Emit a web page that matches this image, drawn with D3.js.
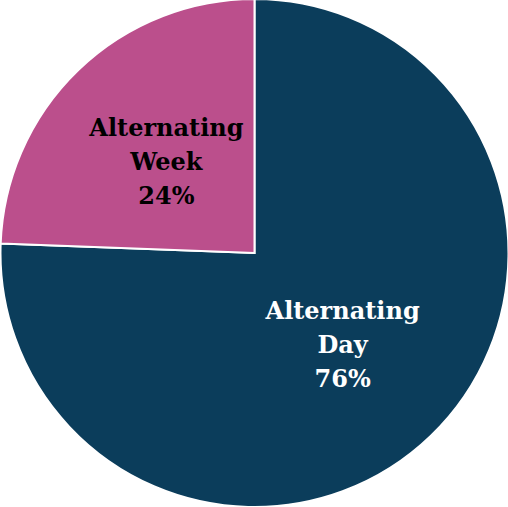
<!DOCTYPE html>
<html>
<head>
<meta charset="utf-8">
<script src="https://cdn.jsdelivr.net/npm/d3@7"></script>
<style>
html,body{margin:0;padding:0;background:#fff;}
</style>
</head>
<body>
<svg id="chart" width="508" height="507"></svg>
<script>
const categories = ["Alternating Day", "Alternating Week"];
const values = [75.6, 24.4];
const labelLines = [["Alternating", "Day", "76%"], ["Alternating", "Week", "24%"]];
const colors = ["#0b3d5b", "#bb4f8c"];
const textColors = ["#ffffff", "#000000"];

const svg = d3.select("#chart");
const cx = 254.5, cy = 253, r = 254;
const g = svg.append("g").attr("transform", `translate(${cx},${cy})`);

const data = categories.map((c, i) => ({cat: c, value: values[i], lines: labelLines[i], i}));
const pie = d3.pie().value(d => d.value).sort(null);
const arcs = pie(data);
const arc = d3.arc().innerRadius(0).outerRadius(r);
const labelArc = d3.arc().innerRadius(r * 0.5).outerRadius(r * 0.5);

g.selectAll("path").data(arcs).join("path")
  .attr("d", arc)
  .attr("fill", d => colors[d.data.i])
  .attr("stroke", "#ffffff")
  .attr("stroke-width", 2)
  .attr("stroke-linejoin", "miter");

const lineH = 34;
const labels = g.selectAll("text.lbl").data(arcs).join("text")
  .attr("class", "lbl")
  .attr("transform", d => `translate(${labelArc.centroid(d)})`)
  .attr("text-anchor", "middle")
  .attr("font-family", "'DejaVu Serif', serif")
  .attr("font-weight", "bold")
  .attr("font-size", 24)
  .attr("fill", d => textColors[d.data.i]);

labels.each(function(d) {
  const t = d3.select(this);
  const n = d.data.lines.length;
  d.data.lines.forEach((ln, k) => {
    t.append("tspan")
      .attr("x", 0)
      .attr("y", (k - (n - 1) / 2) * lineH)
      .attr("dy", "0.35em")
      .text(ln);
  });
});
</script>
</body>
</html>
